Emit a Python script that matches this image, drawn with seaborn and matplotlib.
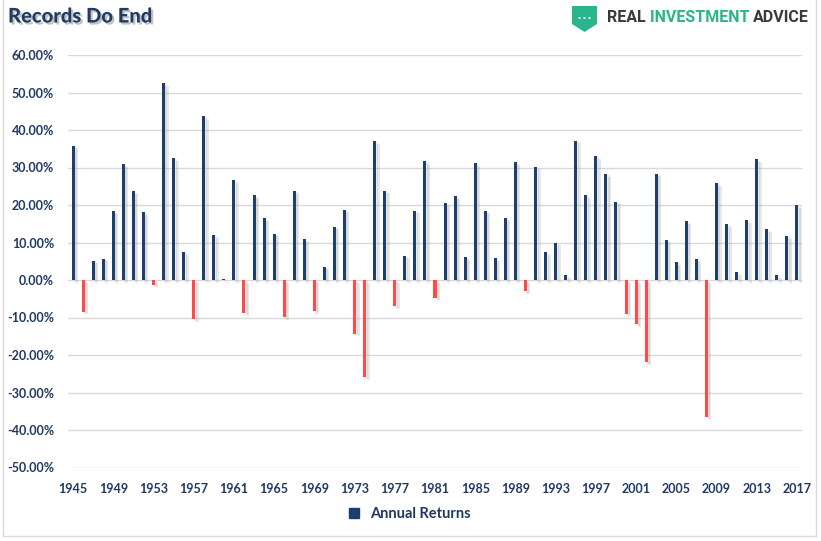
import matplotlib
matplotlib.use("Agg")
import matplotlib.pyplot as plt
import matplotlib.patheffects as pe
from matplotlib.lines import Line2D
from matplotlib.patches import Polygon, Circle
import seaborn as sns
import pandas as pd

years = list(range(1945, 2018))
returns = [35.82, -8.43, 5.20, 5.70, 18.30, 30.81, 23.68, 18.15, -1.21, 52.56,
           32.60, 7.44, -10.46, 43.72, 12.06, 0.34, 26.64, -8.81, 22.61, 16.42,
           12.40, -9.97, 23.80, 10.81, -8.24, 3.56, 14.22, 18.76, -14.31, -25.90,
           37.00, 23.83, -6.98, 6.51, 18.52, 31.74, -4.70, 20.42, 22.34, 6.15,
           31.24, 18.49, 5.81, 16.54, 31.48, -3.06, 30.23, 7.49, 9.97, 1.33,
           37.20, 22.68, 33.10, 28.34, 20.89, -9.03, -11.85, -21.97, 28.36, 10.74,
           4.83, 15.61, 5.48, -36.55, 25.94, 14.82, 2.10, 15.89, 32.15, 13.52,
           1.38, 11.77, 20.00]
y_ticks = list(range(-50, 61, 10))
series_name = "Annual Returns"
title = "Records Do End"

NAVY = "#1C3F6E"
RED = "#FF4A4A"
TXT = "#1F3864"

df = pd.DataFrame({"Year": [str(y) for y in years], "Return": returns})
df["Sign"] = ["pos" if r >= 0 else "neg" for r in returns]

sns.set_theme(style="white")
plt.rcParams["font.family"] = ["Lato", "DejaVu Sans"]

W, H = 821, 541
fig = plt.figure(figsize=(W / 100, H / 100), dpi=100)
ax = fig.add_axes([68 / W, 1 - 467.5 / H, (802 - 68) / W, (467.5 - 55) / H])

sns.barplot(data=df, x="Year", y="Return", hue="Sign",
            palette={"pos": NAVY, "neg": RED}, dodge=False, width=0.3,
            order=df["Year"].tolist(), legend=False, ax=ax, saturation=1)

shadow = [pe.SimplePatchShadow(offset=(2.5, -2), shadow_rgbFace="#9A9A9A", alpha=0.22),
          pe.SimplePatchShadow(offset=(1.5, -1), shadow_rgbFace="#9A9A9A", alpha=0.18),
          pe.Normal()]
for p in ax.patches:
    p.set_path_effects(shadow)
    p.set_linewidth(0)

ax.set_ylim(-50, 60)
ax.set_xlim(-0.5, len(years) - 0.5)
ax.set_yticks(y_ticks)
ax.set_yticklabels([f"{v:.2f}%" for v in y_ticks])
ax.set_xticks(range(0, len(years), 4))
ax.set_xticklabels([str(years[i]) for i in range(0, len(years), 4)])
ax.set_xlabel("")
ax.set_ylabel("")
ax.grid(axis="y", color="#D9D9D9", linewidth=1)
ax.set_axisbelow(True)
for s in ax.spines.values():
    s.set_visible(False)
ax.tick_params(axis="both", length=0, labelsize=9, labelcolor=TXT)
ax.tick_params(axis="y", pad=10)
ax.tick_params(axis="x", pad=11)
for lab in ax.get_xticklabels() + ax.get_yticklabels():
    lab.set_fontweight("bold")

handle = Line2D([], [], marker="s", linestyle="none", markersize=7,
                markerfacecolor=NAVY, markeredgecolor=NAVY)
fig.legend([handle], [series_name], loc="center", bbox_to_anchor=(405 / W, 1 - 514 / H),
           frameon=False, handletextpad=0.1,
           prop={"family": ["Lato", "DejaVu Sans"], "weight": "bold", "size": 10.5},
           labelcolor=TXT)

# title
fig.text(8 / W, 1 - 16 / H, title, fontsize=14.5, fontweight="black", color="#1F3B66",
         va="center", ha="left",
         path_effects=[pe.withSimplePatchShadow(offset=(1.5, -1.5), shadow_rgbFace="#999999", alpha=0.6)])

# logo shield
GREEN = "#2BB58C"
def fx(x):
    return x / W
def fy(y):
    return 1 - y / H
shield = Polygon([(fx(572), fy(6)), (fx(597), fy(6)), (fx(597), fy(24)),
                  (fx(584.5), fy(32)), (fx(572), fy(24))],
                 closed=True, transform=fig.transFigure, facecolor=GREEN, edgecolor="none")
fig.add_artist(shield)
for cx in (579.5, 584.5, 589.5):
    fig.add_artist(Circle((fx(cx), fy(18)), radius=1.3 / W, transform=fig.transFigure,
                          facecolor="white", edgecolor="none"))

fig.canvas.draw()
renderer = fig.canvas.get_renderer()
x = 607
for word, col in (("REAL ", "#3A3A3A"), ("INVESTMENT ", GREEN), ("ADVICE", "#3A3A3A")):
    t = fig.text(fx(x), fy(18), word, fontsize=11.5, fontweight="semibold",
                 family=["Roboto", "DejaVu Sans"], color=col, va="center", ha="left")
    bb = t.get_window_extent(renderer)
    x += bb.width

# border
for xs, ys in (((3, 3), (0, 536)), ((816, 816), (0, 536)), ((3, 816), (536, 536))):
    fig.add_artist(Line2D([fx(xs[0]), fx(xs[1])], [fy(ys[0]), fy(ys[1])],
                          transform=fig.transFigure, color="#D9D9D9", linewidth=1))

fig.savefig("out.png", dpi=100)
